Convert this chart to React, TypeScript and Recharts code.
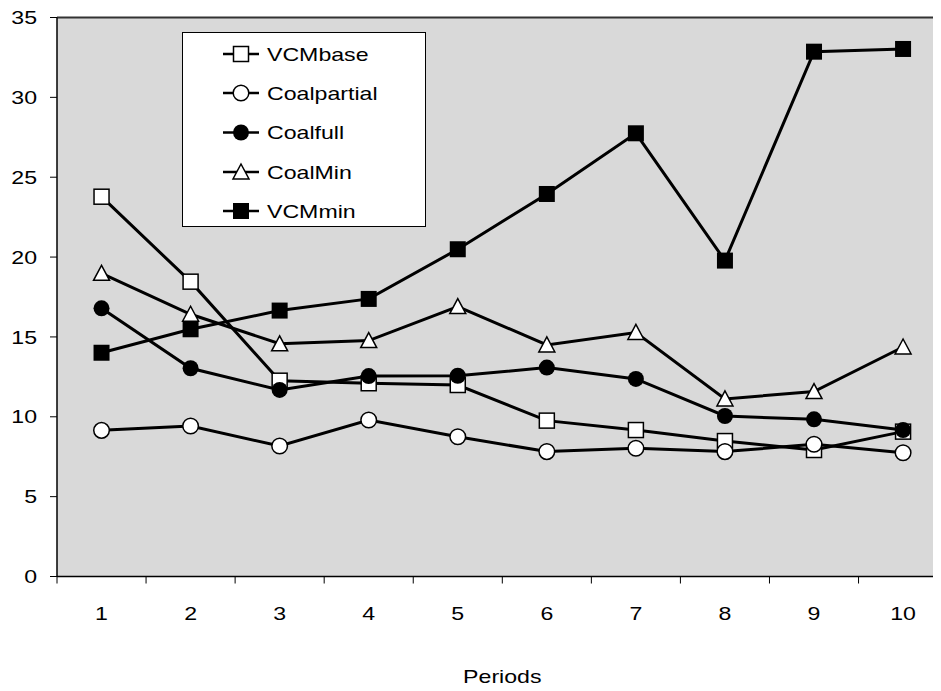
import React from "react";
import { LineChart, Line, XAxis, YAxis, CartesianGrid, Legend, ReferenceLine } from "recharts";

// values
const periods = [1, 2, 3, 4, 5, 6, 7, 8, 9, 10];
const vcmBase = [23.78, 18.46, 12.26, 12.1, 11.99, 9.76, 9.17, 8.48, 7.92, 9.07];
const coalPartial = [9.15, 9.42, 8.17, 9.8, 8.75, 7.82, 8.03, 7.82, 8.28, 7.75];
const coalFull = [16.79, 13.04, 11.68, 12.55, 12.57, 13.08, 12.37, 10.05, 9.84, 9.17];
const coalMin = [18.98, 16.42, 14.57, 14.77, 16.9, 14.5, 15.28, 11.12, 11.58, 14.37];
const vcmMin = [14.01, 15.48, 16.65, 17.38, 20.49, 23.95, 27.75, 19.78, 32.86, 33.03];
const yTicks = [0, 5, 10, 15, 20, 25, 30, 35];

const data = periods.map((p, i) => ({
  period: p,
  VCMbase: vcmBase[i],
  Coalpartial: coalPartial[i],
  Coalfull: coalFull[i],
  CoalMin: coalMin[i],
  VCMmin: vcmMin[i],
}));

// Excel puts tick marks between categories, labels on them
const xTicks = [0.5, ...periods.flatMap((p) => [p, p + 0.5])];

const FONT = "'Liberation Sans', Arial, sans-serif";
const FS = 18.5;
const STRETCH = 1.25;

type Shape = "openSquare" | "openCircle" | "filledCircle" | "openTriangle" | "filledSquare";

function marker(shape: Shape, cx: number, cy: number, key?: any) {
  switch (shape) {
    case "openSquare":
      return <rect key={key} x={cx - 7.5} y={cy - 7.5} width={15} height={15} fill="#fff" stroke="#000" strokeWidth={1.5} />;
    case "openCircle":
      return <circle key={key} cx={cx} cy={cy} r={7.8} fill="#fff" stroke="#000" strokeWidth={1.5} />;
    case "filledCircle":
      return <circle key={key} cx={cx} cy={cy} r={8} fill="#000" />;
    case "openTriangle":
      return (
        <polygon
          key={key}
          points={`${cx},${cy - 8} ${cx + 8},${cy + 7} ${cx - 8},${cy + 7}`}
          fill="#fff"
          stroke="#000"
          strokeWidth={1.5}
        />
      );
    default:
      return <rect key={key} x={cx - 8} y={cy - 8} width={16} height={16} fill="#000" />;
  }
}

const seriesList: { key: string; shape: Shape }[] = [
  { key: "VCMbase", shape: "openSquare" },
  { key: "Coalpartial", shape: "openCircle" },
  { key: "Coalfull", shape: "filledCircle" },
  { key: "CoalMin", shape: "openTriangle" },
  { key: "VCMmin", shape: "filledSquare" },
];

function StretchText({ x, y, anchor, children }: any) {
  return (
    <text
      transform={`translate(${x},${y}) scale(${STRETCH},1)`}
      textAnchor={anchor}
      fontFamily={FONT}
      fontSize={FS}
      fill="#000"
    >
      {children}
    </text>
  );
}

const XTick = ({ x, y, payload }: any) => {
  const v = payload.value;
  if (!Number.isInteger(v)) {
    return <line x1={x} x2={x} y1={y} y2={y + 7} stroke="#000" strokeWidth={1} />;
  }
  return <StretchText x={x} y={y + 43} anchor="middle">{v}</StretchText>;
};

const YTick = ({ x, y, payload }: any) => (
  <StretchText x={x} y={y + 6.6} anchor="end">{payload.value}</StretchText>
);

const LegendBox = () => {
  const rows = [21, 60, 99.5, 139, 178];
  return (
    <div style={{ width: 244, height: 195, background: "#fff", border: "1px solid #000", boxSizing: "border-box" }}>
      <svg width={242} height={193} style={{ display: "block" }}>
        {seriesList.map((s, i) => (
          <g key={s.key}>
            <line x1={40} x2={76} y1={rows[i]} y2={rows[i]} stroke="#000" strokeWidth={2.5} />
            {marker(s.shape, 58, rows[i])}
            <StretchText x={84} y={rows[i] + 6.6} anchor="start">{s.key}</StretchText>
          </g>
        ))}
      </svg>
    </div>
  );
};

export default function App() {
  return (
    <div style={{ margin: -8, width: 941, height: 691, overflow: "hidden", position: "relative", background: "#fff" }}>
      <LineChart width={960} height={691} data={data} margin={{ top: 17.5, right: 12.4, left: 0, bottom: 0 }}>
        <CartesianGrid fill="#d9d9d9" fillOpacity={1} stroke="none" horizontal={false} vertical={false} />
        <XAxis
          dataKey="period"
          type="number"
          domain={[0.5, 10.5]}
          ticks={xTicks}
          interval={0}
          height={114.5}
          tickLine={false}
          tickSize={0}
          tickMargin={0}
          axisLine={{ stroke: "#000", strokeWidth: 1.5 }}
          tick={<XTick />}
          label={(props: any) => {
            const vb = props.viewBox;
            return <StretchText x={vb.x + vb.width / 2} y={vb.y + 106.5} anchor="middle">Periods</StretchText>;
          }}
        />
        <YAxis
          domain={[0, 35]}
          ticks={yTicks}
          interval={0}
          width={57}
          tickSize={7}
          tickMargin={13}
          tickLine={{ stroke: "#000", strokeWidth: 1 }}
          axisLine={{ stroke: "#000", strokeWidth: 1.5 }}
          tick={<YTick />}
        />
        <ReferenceLine y={35} stroke="#333" strokeWidth={2} />
        {seriesList.map((s) => (
          <Line
            key={s.key}
            dataKey={s.key}
            type="linear"
            stroke="#000"
            strokeWidth={3}
            isAnimationActive={false}
            dot={(p: any) => marker(s.shape, p.cx, p.cy, p.key ?? `${s.key}-${p.index}`)}
            activeDot={false}
          />
        ))}
        <Legend
          layout="horizontal"
          verticalAlign="middle"
          align="center"
          content={() => <LegendBox />}
          wrapperStyle={{ left: 182, top: 31.5, width: 244, height: 195 }}
        />
      </LineChart>
    </div>
  );
}
